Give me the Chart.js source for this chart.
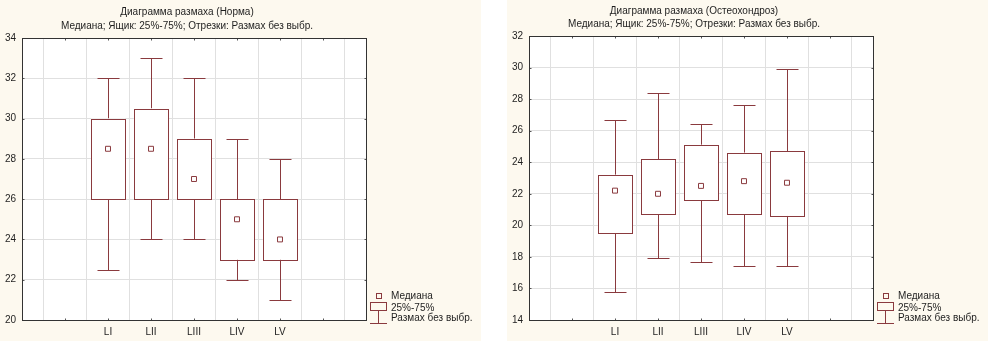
<!DOCTYPE html>
<html>
<head>
<meta charset="utf-8">
<script src="https://cdn.jsdelivr.net/npm/chart.js@4"></script>
<style>
  html, body { margin: 0; padding: 0; background: #ffffff; width: 988px; height: 343px; overflow: hidden; }
  .panel { position: absolute; top: 0; width: 481px; height: 341px; background: #fdf9ef; }
  #p1 { left: 0; }
  #p2 { left: 507px; }
</style>
</head>
<body>
<div class="panel" id="p1"><canvas id="c1" width="481" height="341"></canvas></div>
<div class="panel" id="p2"><canvas id="c2" width="481" height="341"></canvas></div>
<script>
// ---- data ----
const categories = ['LI', 'LII', 'LIII', 'LIV', 'LV'];
const categoryPositions = [2, 3, 4, 5, 6];

const normTitle = ['Диаграмма размаха (Норма)', 'Медиана; Ящик: 25%-75%; Отрезки: Размах без выбр.'];
const normMin = [22.5, 24, 24, 22, 21];
const normQ1 = [26, 26, 26, 23, 23];
const normMedian = [28.5, 28.5, 27, 25, 24];
const normQ3 = [30, 30.5, 29, 26, 26];
const normMax = [32, 33, 32, 29, 28];
const normYRange = [20, 34];

const osteoTitle = ['Диаграмма размаха (Остеохондроз)', 'Медиана; Ящик: 25%-75%; Отрезки: Размах без выбр.'];
const osteoMin = [15.8, 17.9, 17.7, 17.4, 17.4];
const osteoQ1 = [19.5, 20.7, 21.6, 20.7, 20.6];
const osteoMedian = [22.2, 22.0, 22.5, 22.8, 22.7];
const osteoQ3 = [23.2, 24.2, 25.1, 24.6, 24.7];
const osteoMax = [26.7, 28.4, 26.4, 27.6, 29.9];
const osteoYRange = [14, 32];

const xRange = [0, 8];
const yStep = 2;
const legendLabels = ['Медиана', '25%-75%', 'Размах без выбр.'];

// ---- styles ----
const MAROON = '#8a3a3e';
const FONT = 'Arial, "Liberation Sans", sans-serif';
const TEXT = '#1e1e1e';
const FS = 10;

function makeChart(canvasId, title, mins, q1s, meds, q3s, maxs, yRange, topPad, titleY) {
  const boxData = categoryPositions.map((x, i) => ({ x: x, y: [q1s[i], q3s[i]] }));
  const medData = categoryPositions.map((x, i) => ({ x: x, y: meds[i] }));

  const decor = {
    id: 'decor',
    beforeDraw(chart) {
      const ctx = chart.ctx, a = chart.chartArea;
      ctx.save();
      ctx.fillStyle = '#ffffff';
      ctx.fillRect(a.left, a.top, a.right - a.left, a.bottom - a.top);
      ctx.restore();
    },
    beforeDatasetsDraw(chart) {
      const ctx = chart.ctx;
      const xs = chart.scales.x, ys = chart.scales.y;
      const slot = xs.getPixelForValue(1) - xs.getPixelForValue(0);
      const capHalf = Math.round(slot * 0.26);
      ctx.save();
      ctx.strokeStyle = MAROON;
      ctx.lineWidth = 1;
      categoryPositions.forEach((xv, i) => {
        const x = Math.round(xs.getPixelForValue(xv)) + 0.5;
        const yMax = Math.round(ys.getPixelForValue(maxs[i])) + 0.5;
        const yQ3 = ys.getPixelForValue(q3s[i]);
        const yQ1 = ys.getPixelForValue(q1s[i]);
        const yMin = Math.round(ys.getPixelForValue(mins[i])) + 0.5;
        ctx.beginPath();
        ctx.moveTo(x, yMax); ctx.lineTo(x, yQ3);
        ctx.moveTo(x, yQ1); ctx.lineTo(x, yMin);
        ctx.moveTo(x - capHalf, yMax); ctx.lineTo(x + capHalf, yMax);
        ctx.moveTo(x - capHalf, yMin); ctx.lineTo(x + capHalf, yMin);
        ctx.stroke();
      });
      ctx.restore();
    },
    afterDatasetsDraw(chart) {
      const ctx = chart.ctx;
      const meta = chart.getDatasetMeta(1);
      ctx.save();
      ctx.strokeStyle = MAROON;
      ctx.lineWidth = 1;
      meta.data.forEach(el => {
        const p = el.getProps(['x', 'y', 'base', 'width'], true);
        const l = Math.round(p.x - p.width / 2) + 0.5;
        const r = Math.round(p.x + p.width / 2) + 0.5;
        const t = Math.round(Math.min(p.y, p.base)) + 0.5;
        const b = Math.round(Math.max(p.y, p.base)) + 0.5;
        ctx.strokeRect(l, t, r - l, b - t);
      });
      ctx.restore();
    },
    afterDraw(chart) {
      const ctx = chart.ctx, a = chart.chartArea;
      const xs = chart.scales.x, ys = chart.scales.y;
      const L = Math.round(a.left) + 0.5, T = Math.round(a.top) + 0.5;
      const R = Math.round(a.right) + 0.5, B = Math.round(a.bottom) + 0.5;
      ctx.save();
      // small inward tick marks on the frame
      ctx.strokeStyle = '#555555';
      ctx.lineWidth = 1;
      ctx.beginPath();
      xs.ticks.forEach(t => {
        const x = Math.round(xs.getPixelForValue(t.value)) + 0.5;
        ctx.moveTo(x, T); ctx.lineTo(x, T + 2);
        ctx.moveTo(x, B); ctx.lineTo(x, B - 2);
      });
      ys.ticks.forEach(t => {
        const y = Math.round(ys.getPixelForValue(t.value)) + 0.5;
        ctx.moveTo(L, y); ctx.lineTo(L + 2, y);
        ctx.moveTo(R, y); ctx.lineTo(R - 2, y);
      });
      ctx.stroke();
      // frame
      ctx.strokeStyle = '#333333';
      ctx.strokeRect(L, T, R - L, B - T);
      // title
      ctx.fillStyle = TEXT;
      ctx.font = FS + 'px ' + FONT;
      ctx.textAlign = 'center';
      ctx.textBaseline = 'middle';
      const cx = (a.left + a.right) / 2 - 7;
      ctx.fillText(title[0], cx, titleY[0]);
      ctx.fillText(title[1], cx, titleY[1]);
      // legend
      const lx = Math.round(a.right) + 4;
      const ly = Math.round(a.bottom);
      ctx.textAlign = 'left';
      ctx.fillText(legendLabels[0], lx + 21, ly - 24);
      ctx.fillText(legendLabels[1], lx + 21, ly - 12);
      ctx.fillText(legendLabels[2], lx + 21, ly - 2);
      ctx.strokeStyle = MAROON;
      ctx.strokeRect(lx + 6.5, ly - 26.5, 5, 5);
      ctx.strokeRect(lx + 0.5, ly - 17.5, 16, 8);
      ctx.beginPath();
      ctx.moveTo(lx + 8.5, ly - 9.5); ctx.lineTo(lx + 8.5, ly + 3.5);
      ctx.moveTo(lx, ly + 3.5); ctx.lineTo(lx + 17, ly + 3.5);
      ctx.stroke();
      ctx.restore();
    }
  };

  return new Chart(document.getElementById(canvasId), {
    data: {
      datasets: [
        {
          type: 'scatter',
          label: 'Медиана',
          data: medData,
          pointStyle: 'rect',
          radius: 3.5,
          hoverRadius: 3.5,
          borderWidth: 1,
          borderColor: MAROON,
          backgroundColor: '#ffffff',
          order: 0
        },
        {
          type: 'bar',
          label: '25%-75%',
          data: boxData,
          backgroundColor: '#ffffff',
          borderColor: 'rgba(0,0,0,0)',
          borderWidth: 0,
          borderSkipped: false,
          categoryPercentage: 1,
          barPercentage: 0.8,
          order: 1
        }
      ]
    },
    options: {
      responsive: false,
      animation: false,
      events: [],
      layout: { padding: { left: 0, right: 115, top: topPad, bottom: 0 } },
      plugins: { legend: { display: false }, title: { display: false }, tooltip: { enabled: false } },
      scales: {
        x: {
          type: 'linear',
          min: xRange[0], max: xRange[1],
          offset: false,
          afterFit(s) { s.height = 21; },
          ticks: {
            stepSize: 1,
            autoSkip: false,
            maxRotation: 0,
            padding: 6,
            color: TEXT,
            font: { family: FONT, size: FS },
            callback(v) {
              const i = categoryPositions.indexOf(v);
              return i >= 0 ? categories[i] : '';
            }
          },
          grid: {
            color: '#e0e0e0',
            borderDash: [1, 2],
            drawTicks: false
          },
          border: { display: false }
        },
        y: {
          type: 'linear',
          min: yRange[0], max: yRange[1],
          afterFit(s) { s.width = 22; },
          ticks: {
            stepSize: yStep,
            padding: 6,
            color: TEXT,
            font: { family: FONT, size: FS }
          },
          grid: {
            color: '#e0e0e0',
            borderDash: [1, 2],
            drawTicks: false
          },
          border: { display: false }
        }
      }
    },
    plugins: [decor]
  });
}

makeChart('c1', normTitle, normMin, normQ1, normMedian, normQ3, normMax, normYRange, 38, [12, 26]);
makeChart('c2', osteoTitle, osteoMin, osteoQ1, osteoMedian, osteoQ3, osteoMax, osteoYRange, 36, [11, 24]);
</script>
</body>
</html>
